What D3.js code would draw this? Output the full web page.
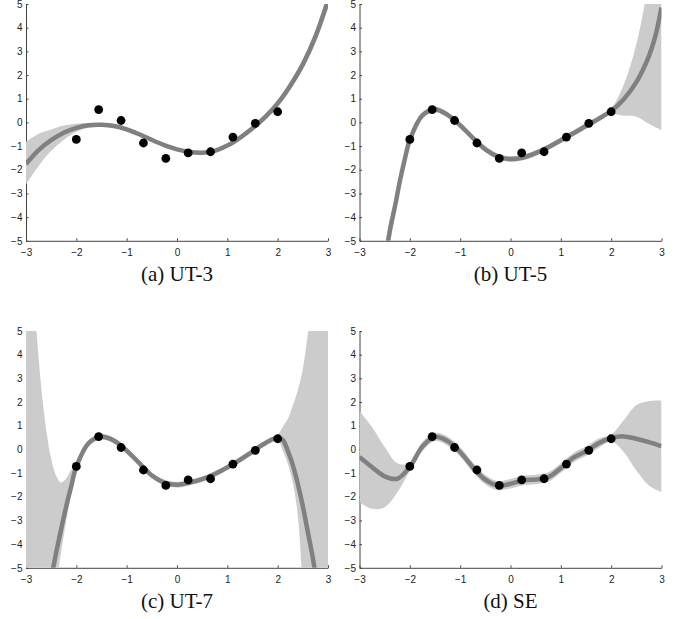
<!DOCTYPE html>
<html>
<head>
<meta charset="utf-8">
<style>
    body { margin: 0; background: #fff; }
    .axis text { font-family: "Liberation Sans", Arial, sans-serif; font-size: 10px; fill: #222; }
    .axis path, .axis line { stroke: #444; stroke-width: 1; }
    .caption { font-family: "Liberation Serif", "Times New Roman", serif; font-size: 21px; fill: #111; }
    .band { fill: #cccccc; stroke: none; }
    .mean { fill: none; stroke: #808080; stroke-width: 4.5; }
    .dot { fill: #000; }
</style>
</head>
<body>
<svg width="681" height="619"></svg>
<script src="https://d3js.org/d3.v7.min.js"></script>
<script>
// observations (same in every panel)
const pointX = [-2, -1.556, -1.111, -0.667, -0.222, 0.222, 0.667, 1.111, 1.556, 2];
const pointY = [-0.72, 0.54, 0.08, -0.87, -1.52, -1.29, -1.24, -0.62, -0.04, 0.45];

const xTicks = [-3, -2, -1, 0, 1, 2, 3];
const yTicks = [-5, -4, -3, -2, -1, 0, 1, 2, 3, 4, 5];
const captions = ["(a) UT-3", "(b) UT-5", "(c) UT-7", "(d) SE"];

// (a) UT-3
const xA = [-3, -2.75, -2.5, -2.25, -2, -1.75, -1.5, -1.25, -1, -0.75, -0.5, -0.25, 0, 0.25, 0.5, 0.75, 1, 1.25, 1.5, 1.75, 2, 2.25, 2.5, 2.75, 3];
const meanA = [-1.76, -1.17, -0.75, -0.44, -0.23, -0.12, -0.10, -0.15, -0.29, -0.50, -0.74, -0.96, -1.14, -1.25, -1.28, -1.20, -0.98, -0.65, -0.25, 0.22, 0.80, 1.55, 2.45, 3.62, 5.15];
const hiA = [-0.82, -0.48, -0.30, -0.13, -0.06, -0.03, -0.02, -0.07, -0.21, -0.42, -0.66, -0.88, -1.06, -1.17, -1.20, -1.12, -0.90, -0.56, -0.15, 0.34, 0.94, 1.73, 2.67, 3.89, 5.5];
const loA = [-2.62, -1.84, -1.20, -0.74, -0.40, -0.22, -0.18, -0.23, -0.37, -0.58, -0.82, -1.04, -1.22, -1.33, -1.36, -1.28, -1.06, -0.74, -0.35, 0.10, 0.66, 1.37, 2.23, 3.35, 4.8];

// (b) UT-5
const xB = [-3, -2.75, -2.5, -2.4, -2.3, -2.2, -2.1, -2, -1.75, -1.5, -1.25, -1, -0.75, -0.5, -0.25, 0, 0.25, 0.5, 0.75, 1, 1.25, 1.5, 1.75, 2, 2.25, 2.5, 2.75, 2.875, 3];
const meanB = [-14, -9.5, -6.0, -4.6, -3.6, -2.5, -1.55, -0.74, 0.30, 0.55, 0.32, -0.12, -0.65, -1.14, -1.44, -1.55, -1.48, -1.30, -1.05, -0.75, -0.46, -0.15, 0.15, 0.48, 0.98, 1.70, 2.80, 3.62, 4.85];
const hiB = [-11, -7.8, -5.3, -4.1, -3.2, -2.2, -1.35, -0.62, 0.42, 0.67, 0.44, 0.00, -0.53, -1.02, -1.32, -1.43, -1.36, -1.18, -0.93, -0.63, -0.34, -0.03, 0.27, 0.60, 1.60, 3.30, 6.0, 7.6, 10];
const loB = [-17, -11.2, -6.8, -5.2, -4.0, -2.8, -1.75, -0.86, 0.18, 0.43, 0.20, -0.24, -0.77, -1.26, -1.56, -1.67, -1.60, -1.42, -1.17, -0.87, -0.58, -0.27, 0.03, 0.36, 0.28, 0.24, -0.06, -0.20, -0.32];

// (c) UT-7
const xC = [-3, -2.9, -2.8, -2.7, -2.6, -2.5, -2.4, -2.3, -2.2, -2.1, -2, -1.75, -1.5, -1.25, -1, -0.75, -0.5, -0.25, 0, 0.25, 0.5, 0.75, 1, 1.25, 1.5, 1.75, 2, 2.1, 2.2, 2.3, 2.4, 2.5, 2.6, 2.7, 2.8, 2.9, 3];
const meanC = [-12.5, -10.8, -9.2, -7.8, -6.55, -5.45, -4.35, -3.35, -2.4, -1.55, -0.73, 0.28, 0.53, 0.37, -0.05, -0.58, -1.10, -1.40, -1.49, -1.40, -1.26, -1.04, -0.76, -0.44, -0.09, 0.26, 0.50, 0.40, -0.05, -0.65, -1.45, -2.4, -3.5, -4.6, -6.0, -7.6, -9.5];
const hiC = [14, 9.5, 5.3, 2.7, 0.85, -0.40, -1.12, -1.40, -1.22, -0.86, -0.62, 0.40, 0.65, 0.49, 0.07, -0.46, -0.98, -1.28, -1.37, -1.28, -1.14, -0.92, -0.64, -0.32, 0.03, 0.38, 0.62, 0.95, 1.28, 1.84, 2.5, 3.4, 4.9, 6.8, 9.0, 12, 15];
const loC = [-15.5, -13.5, -11.7, -10, -8.5, -7.0, -5.6, -4.3, -3.0, -1.85, -0.84, 0.16, 0.41, 0.25, -0.17, -0.70, -1.22, -1.52, -1.61, -1.52, -1.38, -1.16, -0.88, -0.56, -0.21, 0.14, 0.38, -0.05, -0.60, -1.40, -2.8, -6.0, -9.5, -13, -17, -21, -25];

// (d) SE
const xD = [-3, -2.75, -2.5, -2.25, -2, -1.75, -1.5, -1.25, -1, -0.75, -0.5, -0.25, 0, 0.25, 0.5, 0.75, 1, 1.25, 1.5, 1.75, 2, 2.25, 2.5, 2.75, 3];
const meanD = [-0.32, -0.75, -1.14, -1.24, -0.74, 0.12, 0.53, 0.35, -0.11, -0.75, -1.28, -1.53, -1.45, -1.31, -1.27, -1.17, -0.79, -0.35, -0.08, 0.26, 0.48, 0.55, 0.45, 0.31, 0.14];
const hiD = [1.62, 0.94, 0.10, -0.58, -0.58, 0.32, 0.70, 0.55, 0.09, -0.55, -1.08, -1.34, -1.25, -1.11, -1.07, -0.97, -0.59, -0.15, 0.12, 0.46, 0.63, 1.23, 1.86, 2.04, 2.07];
const loD = [-2.23, -2.51, -2.44, -1.82, -0.90, -0.08, 0.36, 0.15, -0.31, -0.95, -1.48, -1.72, -1.65, -1.51, -1.47, -1.37, -0.99, -0.55, -0.28, 0.06, 0.33, -0.11, -0.89, -1.52, -1.80];

let svg = d3.select("svg");

let W = 302, H = 236.8;

let panels = [
    { xs: xA, mean: meanA, hi: hiA, lo: loA, left: 26, top: 4 },
    { xs: xB, mean: meanB, hi: hiB, lo: loB, left: 359.5, top: 4 },
    { xs: xC, mean: meanC, hi: hiC, lo: loC, left: 26, top: 331 },
    { xs: xD, mean: meanD, hi: hiD, lo: loD, left: 359.5, top: 331 }
];

let defs = svg.append("defs");

panels.forEach(function (p, k) {
    let x = d3.scaleLinear().domain([-3, 3]).range([p.left, p.left + W]);
    let y = d3.scaleLinear().domain([-5, 5]).range([p.top + H, p.top]);

    defs.append("clipPath").attr("id", "clip" + k)
        .append("rect")
        .attr("x", x(-3)).attr("y", y(5))
        .attr("width", x(3) - x(-3)).attr("height", y(-5) - y(5));

    let g = svg.append("g");

    // axes sit underneath the data, as in the original figure
    g.append("g")
        .attr("class", "axis")
        .attr("transform", `translate(0,${y(-5)})`)
        .call(d3.axisBottom(x).tickValues(xTicks).tickSizeInner(-2.5).tickSizeOuter(0).tickPadding(8.5).tickFormat(d3.format("d")));

    g.append("g")
        .attr("class", "axis")
        .attr("transform", `translate(${x(-3)},0)`)
        .call(d3.axisLeft(y).tickValues(yTicks).tickSizeInner(-2.5).tickSizeOuter(0).tickPadding(3.5).tickFormat(d3.format("d")));

    let idx = d3.range(p.xs.length);

    // uncertainty band
    g.append("path")
        .attr("class", "band")
        .attr("clip-path", `url(#clip${k})`)
        .attr("d", d3.area()
            .x(i => x(p.xs[i]))
            .y0(i => y(p.lo[i]))
            .y1(i => y(p.hi[i]))
            .curve(d3.curveCatmullRom)(idx));

    // posterior mean
    g.append("path")
        .attr("class", "mean")
        .attr("clip-path", `url(#clip${k})`)
        .attr("d", d3.line()
            .x(i => x(p.xs[i]))
            .y(i => y(p.mean[i]))
            .curve(d3.curveCatmullRom)(idx));

    // data points
    g.append("g")
        .selectAll("circle")
        .data(pointX)
        .join("circle")
        .attr("class", "dot")
        .attr("cx", d => x(d))
        .attr("cy", (d, i) => y(pointY[i]))
        .attr("r", 4.4);

    g.append("text")
        .attr("class", "caption")
        .attr("x", (x(-3) + x(3)) / 2)
        .attr("y", y(-5) + 40)
        .attr("text-anchor", "middle")
        .text(captions[k]);
});
</script>
</body>
</html>
